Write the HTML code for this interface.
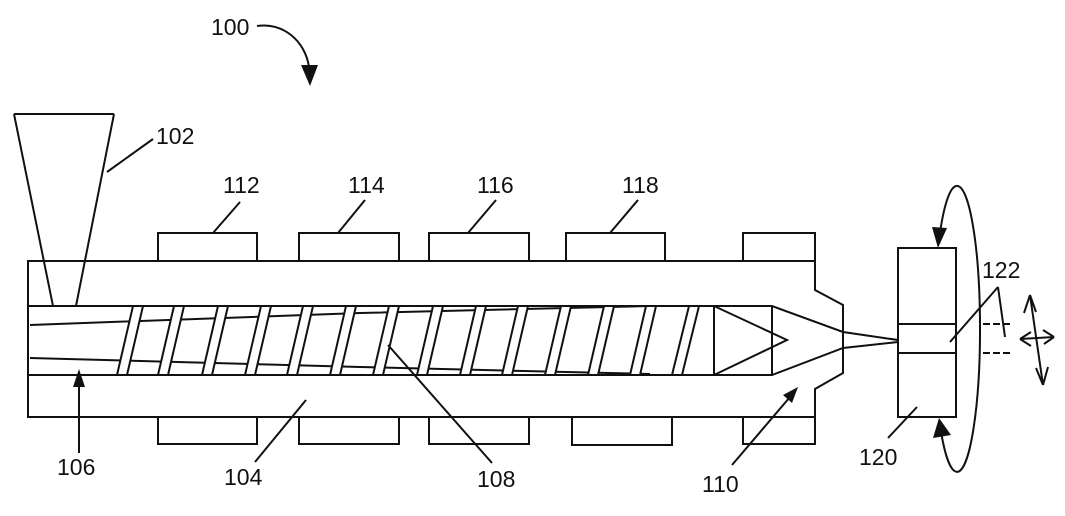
<!DOCTYPE html>
<html><head><meta charset="utf-8"><style>
html,body{margin:0;padding:0;background:#fff;}
svg{display:block;}
text{font-family:"Liberation Sans",Arial,sans-serif;font-size:23px;fill:#111;}
</style></head><body>
<svg width="1065" height="516" viewBox="0 0 1065 516" xmlns="http://www.w3.org/2000/svg">
<g fill="none" stroke="#111" stroke-width="2" stroke-linejoin="miter">
<!-- hopper -->
<path d="M14 114 L114 114 M14 114 L53 306 M114 114 L76 306"/>
<!-- heaters top -->
<path d="M158 261 V233 H257 V261 M299 261 V233 H399 V261 M429 261 V233 H529 V261 M566 261 V233 H665 V261 M743 261 V233 H815 V261"/>
<!-- heaters bottom -->
<path d="M158 417 V444 H257 V417 M299 417 V444 H399 V417 M429 417 V444 H529 V417 M572 417 V445 H672 V417 M743 417 V444 H815 V417"/>
<!-- barrel outline -->
<path d="M28 261 H815 V290 L843 305 V373 L815 389 V417 H28 Z"/>
<!-- shaft lines -->
<path d="M30 325 L360 313 L650 306 M30 358 L360 367 L650 374"/>
</g>
<!-- flights -->
<g stroke="#111" stroke-width="2">
<g fill="#fff" stroke="none">
<polygon points="117,375 133,306 143,306 127,375"/>
<polygon points="158,375 174,306 184,306 168,375"/>
<polygon points="202,375 218,306 228,306 212,375"/>
<polygon points="245,375 261,306 271,306 255,375"/>
<polygon points="287,375 303,306 313,306 297,375"/>
<polygon points="330,375 346,306 356,306 340,375"/>
<polygon points="373,375 389,306 399,306 383,375"/>
<polygon points="417,375 433,306 443,306 427,375"/>
<polygon points="460,375 476,306 486,306 470,375"/>
<polygon points="502,375 518,306 528,306 512,375"/>
<polygon points="545,375 561,306 571,306 555,375"/>
<polygon points="588,375 604,306 614,306 598,375"/>
<polygon points="630,375 646,306 656,306 640,375"/>
<polygon points="672,375 689,306 699,306 682,375"/>
</g>
<path fill="none" d="
M117 375 L133 306 M127 375 L143 306
M158 375 L174 306 M168 375 L184 306
M202 375 L218 306 M212 375 L228 306
M245 375 L261 306 M255 375 L271 306
M287 375 L303 306 M297 375 L313 306
M330 375 L346 306 M340 375 L356 306
M373 375 L389 306 M383 375 L399 306
M417 375 L433 306 M427 375 L443 306
M460 375 L476 306 M470 375 L486 306
M502 375 L518 306 M512 375 L528 306
M545 375 L561 306 M555 375 L571 306
M588 375 L604 306 M598 375 L614 306
M630 375 L646 306 M640 375 L656 306
M672 375 L689 306 M682 375 L699 306"/>
</g>
<g fill="none" stroke="#111" stroke-width="2">
<!-- bore lines -->
<path d="M28 306 H772 L843 332 L898 340 M28 375 H772 L843 348 L898 342"/>
<!-- tip -->
<path d="M714 306 V375 M772 306 V375 M714 306 L787 340 L714 375"/>
<!-- mold -->
<rect x="898" y="248" width="58" height="169" fill="#fff"/>
<path d="M898 324 H956 M898 353 H956"/>
<!-- ellipse -->
<path d="M939 240 A23 143 0 1 1 940 425"/>
<!-- dashed -->
<path d="M983 324 H1012 M983 353 H1012" stroke-dasharray="7 3"/>
<!-- double arrows -->
<path d="M1030 295 L1043 385 M1030 295 L1024 313 M1030 295 L1036 312 M1043 385 L1036 368 M1043 385 L1048 367"/>
<path d="M1020 339 L1054 337 M1020 339 L1031 332 M1020 339 L1031 346 M1054 337 L1043 330 M1054 337 L1044 344"/>
<!-- leaders -->
<path d="M107 172 L153 139"/>
<path d="M240 202 L213 233"/>
<path d="M365 200 L338 233"/>
<path d="M496 200 L468 233"/>
<path d="M638 200 L610 233"/>
<path d="M998 287 L950 342 M998 287 L1005 337"/>
<path d="M888 438 L917 407"/>
<path d="M492 463 L388 345"/>
<path d="M255 462 L306 400"/>
<path d="M79 453 L79 384"/>
<path d="M732 465 L790 397"/>
<path d="M257 26 C282 22 305 40 309 67"/>
</g>
<!-- arrowheads -->
<g fill="#111" stroke="none">
<polygon points="932,227 947,228 938,248"/>
<polygon points="933,438 951,435 939,418"/>
<polygon points="73,387 85,387 79,369"/>
<polygon points="798,387 783,395 792,403"/>
<polygon points="301,65 318,65 310,86"/>
</g>
<!-- labels -->
<text x="211" y="35">100</text>
<text x="156" y="144">102</text>
<text x="223" y="193">112</text>
<text x="348" y="193">114</text>
<text x="477" y="193">116</text>
<text x="622" y="193">118</text>
<text x="982" y="278">122</text>
<text x="57" y="475">106</text>
<text x="224" y="485">104</text>
<text x="477" y="487">108</text>
<text x="702" y="492">110</text>
<text x="859" y="465">120</text>
</svg>
</body></html>
